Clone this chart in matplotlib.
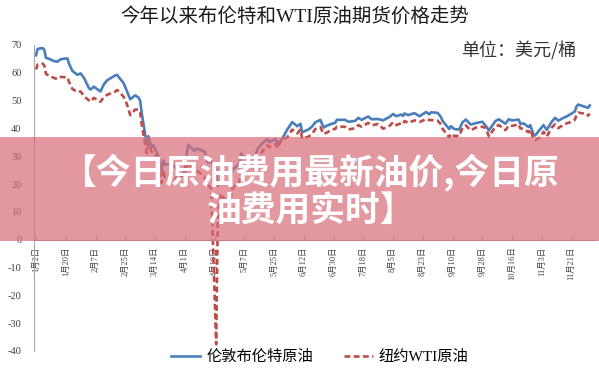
import matplotlib
matplotlib.use("Agg")
import matplotlib.pyplot as plt
import pandas as pd
from matplotlib.patches import Rectangle
from matplotlib.lines import Line2D

plt.rcParams['axes.unicode_minus'] = False

dates = ["01-02","01-03","01-06","01-07","01-08","01-10","01-13","01-15","01-17","01-21","01-22",
         "01-24","01-27","01-29","01-31","02-03","02-04","02-06","02-10","02-12","02-14",
         "02-19","02-20","02-21","02-24","02-26","02-28","03-02","03-04","03-05","03-06",
         "03-09","03-10","03-12","03-13","03-16","03-18","03-19","03-20","03-24","03-26",
         "03-30","04-01","04-02","04-03","04-07","04-08","04-13","04-15","04-17","04-20",
         "04-21","04-23","04-27","04-28","04-30","05-04","05-05","05-07","05-11","05-13",
         "05-15","05-18","05-21","05-22","05-26","05-27","05-29","06-02","06-05","06-08",
         "06-10","06-11","06-15","06-17","06-19","06-22","06-24","06-26","06-29","07-01",
         "07-02","07-07","07-09","07-13","07-15","07-17","07-21","07-23","07-27","07-30",
         "08-03","08-05","08-07","08-10","08-11","08-12","08-14","08-18","08-21","08-25",
         "08-27","08-28","09-01","09-03","09-04","09-08","09-09","09-11","09-14","09-16",
         "09-18","09-21","09-24","09-28","09-30","10-02","10-06","10-08","10-12","10-14",
         "10-16","10-20","10-21","10-23","10-26","10-27","10-29","10-30","11-02","11-04",
         "11-06","11-09","11-11","11-13","11-16","11-18","11-20","11-23","11-24","11-25",
         "11-27","11-30","12-01","12-02"]

brent = [66.3,68.6,68.9,68.3,65.4,65.0,64.2,64.0,64.9,65.2,63.2,
         60.7,59.3,59.8,58.2,54.5,54.0,55.0,53.3,55.8,57.3,
         59.1,59.3,58.5,56.3,53.4,50.5,51.9,51.1,50.0,45.3,
         34.4,37.2,33.2,33.9,30.1,24.9,28.5,27.0,27.2,26.3,
         22.8,24.7,29.9,34.1,31.9,32.8,31.7,27.7,28.1,25.6,
         19.3,21.3,20.0,20.5,25.3,27.2,31.0,29.5,29.6,29.2,
         32.5,34.8,36.1,35.1,36.2,34.7,35.3,39.6,42.3,40.8,
         41.7,38.6,39.7,40.7,42.2,43.1,40.3,41.0,41.7,42.0,
         43.1,43.1,42.4,42.7,43.8,43.1,44.3,43.3,43.4,42.9,
         44.2,45.2,44.4,45.0,44.5,45.4,44.8,45.5,44.4,45.9,
         45.1,45.8,45.6,44.1,42.7,39.8,40.8,39.8,39.6,42.2,
         43.2,41.4,41.9,42.4,41.0,39.3,42.7,43.3,41.7,43.3,
         42.9,43.2,41.7,41.8,40.5,41.2,37.7,37.5,39.7,41.2,
         39.5,42.4,43.8,42.8,43.8,44.3,45.0,46.1,47.9,48.6,
         48.2,47.6,47.4,48.3]

wti = [61.2,63.0,63.3,62.7,59.6,59.0,58.1,57.8,58.5,58.4,56.7,
       54.2,53.1,53.3,51.6,50.1,49.6,51.0,49.6,51.2,52.1,
       53.3,53.8,53.4,51.4,48.7,44.8,46.8,46.8,45.9,41.3,
       31.1,34.4,31.5,31.7,28.7,20.4,25.2,22.4,24.0,22.6,
       20.1,20.3,25.3,28.3,23.6,25.1,22.4,19.9,18.3,-37.6,
       10.0,16.5,12.8,12.3,18.8,20.4,24.6,23.6,24.1,25.3,
       29.4,31.8,33.9,33.3,34.4,32.8,35.5,36.8,39.6,38.2,
       39.6,36.3,37.1,38.0,39.8,40.5,38.0,38.5,39.7,39.8,
       40.7,40.6,39.6,40.1,41.2,40.6,42.0,41.1,41.6,39.9,
       41.0,42.2,41.2,41.9,41.6,42.7,42.0,42.9,42.3,43.4,
       43.0,43.0,42.8,41.4,39.8,36.8,38.1,37.3,37.3,40.2,
       41.1,39.3,40.3,40.6,40.2,37.1,40.7,41.2,39.4,41.0,
       40.9,41.5,40.0,39.9,38.6,39.6,36.2,35.8,36.8,38.8,
       37.1,40.3,41.5,40.1,41.3,41.8,42.2,43.1,44.9,45.7,
       45.5,45.3,44.6,45.3]

series_names = ["伦敦布伦特原油", "纽约WTI原油"]
title = "今年以来布伦特和WTI原油期货价格走势"
unit = "单位：美元/桶"
banner_lines = ["【今日原油费用最新油价,今日原", "油费用实时】"]
y_ticks = [70, 60, 50, 40, 30, 20, 10, 0, -10, -20, -30, -40]

x = pd.to_datetime(["2020-" + d for d in dates])
tick_dates = pd.date_range("2020-01-02", periods=19, freq="18D")
tick_labels = [f"{t.month}月{t.day}日" for t in tick_dates]

W, H = 599, 380
fig = plt.figure(figsize=(W/100, H/100), dpi=100)
ax = fig.add_axes([34/W, 1-351/H, (594-34)/W, (351-45)/H])

blue = "#4A7EBB"
red = "#BE4B48"
ax.plot(x, brent, color=blue, lw=1.9, solid_joinstyle="round")
ax.plot(x, wti, color=red, lw=1.9, dashes=(2.2, 1.3))

start = pd.Timestamp("2020-01-02") - pd.Timedelta(hours=29)
ax.set_xlim(start, start + pd.Timedelta(days=560/1.653))
ax.set_ylim(-40, 70)

for s in ["top", "right"]:
    ax.spines[s].set_visible(False)
ax.spines["left"].set_color("#A6A6A6")
ax.spines["bottom"].set_color("#A6A6A6")
ax.spines["bottom"].set_position(("data", 0))

ax.set_yticks(y_ticks)
ax.set_yticklabels([str(v) for v in y_ticks], family="Liberation Serif", fontsize=7.5, color="#404040")
ax.tick_params(axis="y", length=0, pad=9)

ax.set_xticks(tick_dates)
ax.set_xticklabels(tick_labels, rotation=90, family=["Liberation Serif", "Noto Sans CJK SC"],
                   fontsize=6, color="#404040", va="top")
ax.tick_params(axis="x", direction="in", length=3, color="#A6A6A6", pad=5)

fig.text(295/W, 1-16/H, title, ha="center", va="center", fontsize=14,
         family=["Liberation Serif", "Noto Sans CJK SC"], color="#1a1a1a")
fig.text(576/W, 1-51/H, unit, ha="right", va="center", fontsize=13,
         family=["Noto Sans CJK SC"], color="#333333")

handles = [Line2D([], [], color=blue, lw=1.9),
           Line2D([], [], color=red, lw=1.9, dashes=(2.2, 1.3))]
fig.legend(handles, series_names, loc="center", bbox_to_anchor=(320/W, 1-357/H),
           ncol=2, frameon=False, handlelength=1.9, handletextpad=0.4, columnspacing=2.0,
           prop={"family": ["Liberation Serif", "Noto Sans CJK SC"], "size": 11})

rect = Rectangle((0, 1-241/H), 1, 104/H, transform=fig.transFigure,
                 facecolor="#D86C77", alpha=0.7, edgecolor="none", zorder=10)
fig.add_artist(rect)
fig.text(310/W, 1-172/H, banner_lines[0], ha="center", va="center", fontsize=25,
         fontweight="black", color="white", family=["Noto Sans CJK SC"], zorder=11)
fig.text(311/W, 1-211/H, banner_lines[1], ha="center", va="center", fontsize=25,
         fontweight="black", color="white", family=["Noto Sans CJK SC"], zorder=11)

fig.savefig("out.png", dpi=100)
